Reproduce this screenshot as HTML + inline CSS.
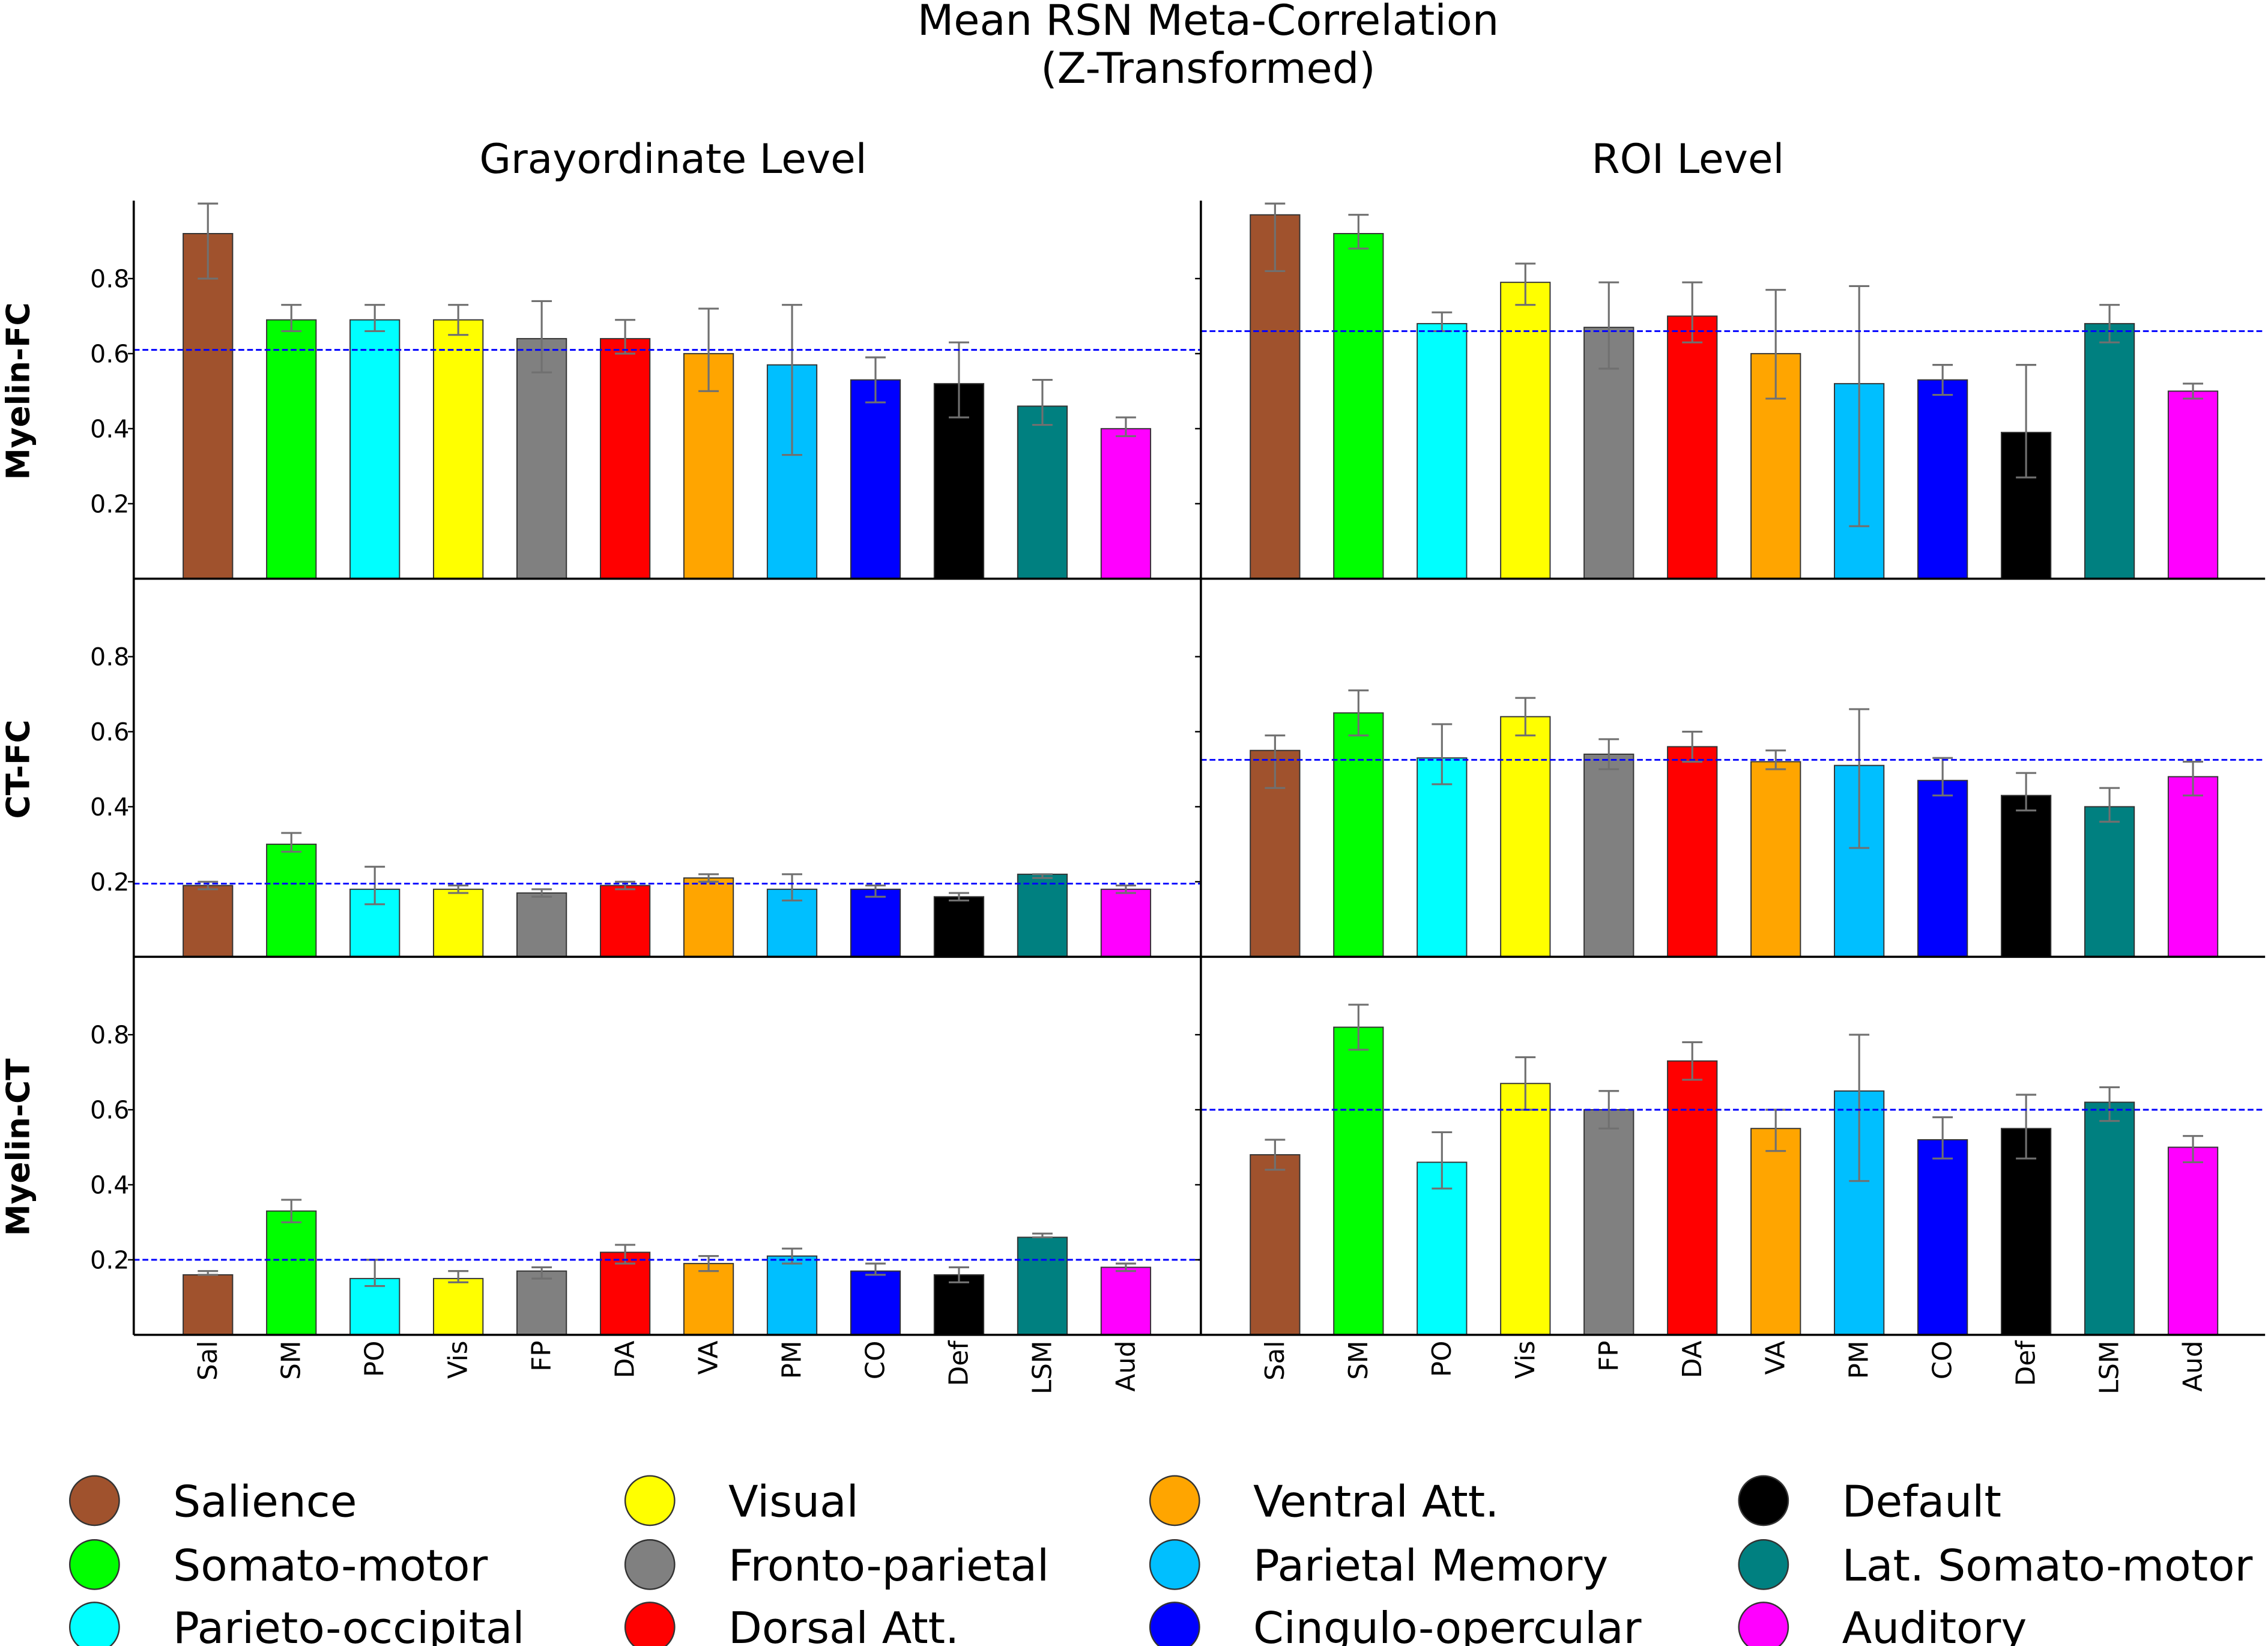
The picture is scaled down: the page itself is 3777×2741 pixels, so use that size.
<!DOCTYPE html>
<html><head><meta charset="utf-8"><style>
html,body{margin:0;padding:0;background:#fff;}
svg{display:block;font-family:"DejaVu Sans","Liberation Sans",sans-serif;}
</style></head><body>
<svg id="chart" width="3777" height="2741" viewBox="0 0 1560 1132" preserveAspectRatio="none" xmlns="http://www.w3.org/2000/svg">
<rect width="1560" height="1132" fill="#fff"/>
<text x="831" y="24" font-size="29" text-anchor="middle">Mean RSN Meta-Correlation</text>
<text x="831" y="57" font-size="29" text-anchor="middle">(Z-Transformed)</text>
<text x="463" y="119" font-size="28" text-anchor="middle">Grayordinate Level</text>
<text x="1161" y="119" font-size="28" text-anchor="middle">ROI Level</text>
<g id="plots"></g>
<g id="legend"></g>
</svg>
<script>
const categories=["Sal","SM","PO","Vis","FP","DA","VA","PM","CO","Def","LSM","Aud"];
const legendNames=["Salience","Somato-motor","Parieto-occipital","Visual","Fronto-parietal","Dorsal Att.","Ventral Att.","Parietal Memory","Cingulo-opercular","Default","Lat. Somato-motor","Auditory"];
const colors=["#a0522d","#00ff00","#00ffff","#ffff00","#808080","#ff0000","#ffa500","#00bfff","#0000ff","#000000","#008080","#ff00ff"];
const rowLabels=["Myelin-FC","CT-FC","Myelin-CT"];
const yTicks=[0.2,0.4,0.6,0.8];
const gMyelinFC=[0.92,0.69,0.69,0.69,0.64,0.64,0.60,0.57,0.53,0.52,0.46,0.40];
const gMyelinFCLo=[0.80,0.66,0.66,0.65,0.55,0.60,0.50,0.33,0.47,0.43,0.41,0.38];
const gMyelinFCHi=[1.0,0.73,0.73,0.73,0.74,0.69,0.72,0.73,0.59,0.63,0.53,0.43];
const rMyelinFC=[0.97,0.92,0.68,0.79,0.67,0.70,0.60,0.52,0.53,0.39,0.68,0.50];
const rMyelinFCLo=[0.82,0.88,0.66,0.73,0.56,0.63,0.48,0.14,0.49,0.27,0.63,0.48];
const rMyelinFCHi=[1.0,0.97,0.71,0.84,0.79,0.79,0.77,0.78,0.57,0.57,0.73,0.52];
const gCTFC=[0.19,0.30,0.18,0.18,0.17,0.19,0.21,0.18,0.18,0.16,0.22,0.18];
const gCTFCLo=[0.18,0.28,0.14,0.17,0.16,0.18,0.20,0.15,0.16,0.15,0.21,0.17];
const gCTFCHi=[0.20,0.33,0.24,0.19,0.18,0.20,0.22,0.22,0.19,0.17,0.22,0.19];
const rCTFC=[0.55,0.65,0.53,0.64,0.54,0.56,0.52,0.51,0.47,0.43,0.40,0.48];
const rCTFCLo=[0.45,0.59,0.46,0.59,0.50,0.52,0.50,0.29,0.43,0.39,0.36,0.43];
const rCTFCHi=[0.59,0.71,0.62,0.69,0.58,0.60,0.55,0.66,0.53,0.49,0.45,0.52];
const gMyelinCT=[0.16,0.33,0.15,0.15,0.17,0.22,0.19,0.21,0.17,0.16,0.26,0.18];
const gMyelinCTLo=[0.16,0.30,0.13,0.14,0.15,0.19,0.17,0.19,0.16,0.14,0.26,0.17];
const gMyelinCTHi=[0.17,0.36,0.20,0.17,0.18,0.24,0.21,0.23,0.19,0.18,0.27,0.19];
const rMyelinCT=[0.48,0.82,0.46,0.67,0.60,0.73,0.55,0.65,0.52,0.55,0.62,0.50];
const rMyelinCTLo=[0.44,0.76,0.39,0.60,0.55,0.68,0.49,0.41,0.47,0.47,0.57,0.46];
const rMyelinCTHi=[0.52,0.88,0.54,0.74,0.65,0.78,0.60,0.80,0.58,0.64,0.66,0.53];
const means=[[0.61,0.66],[0.195,0.525],[0.20,0.60]];

const panels=[[[gMyelinFC,gMyelinFCLo,gMyelinFCHi],[rMyelinFC,rMyelinFCLo,rMyelinFCHi]],
 [[gCTFC,gCTFCLo,gCTFCHi],[rCTFC,rCTFCLo,rCTFCHi]],
 [[gMyelinCT,gMyelinCTLo,gMyelinCTHi],[rMyelinCT,rMyelinCTLo,rMyelinCTHi]]];
const NS="http://www.w3.org/2000/svg";
const P=document.getElementById("plots");
function mk(tag,at,parent){const e=document.createElementNS(NS,tag);for(const k in at)e.setAttribute(k,at[k]);(parent||P).appendChild(e);return e;}
const rowBottom=[398,658,918], rowH=258;
const colLeft=[92,826], colRight=[826,1558], firstX=[143,877], step=57.4, bw=34;
for(let r=0;r<3;r++){
 const y0=rowBottom[r];
 const ys=v=>y0-v*rowH;
 const lab=mk("text",{x:20,y:y0-rowH/2,"font-size":22,"font-weight":"bold","text-anchor":"middle",transform:`rotate(-90 20 ${y0-rowH/2})`});
 lab.textContent=rowLabels[r];
 
 
 for(let c=0;c<2;c++){
  const [vals,lo,hi]=panels[r][c];
  const xs=i=>firstX[c]+i*step;
  yTicks.forEach(t=>{
   mk("line",{x1:colLeft[c]-4,x2:colLeft[c],y1:ys(t),y2:ys(t),stroke:"#000","stroke-width":1});
   if(c===0){const tt=mk("text",{x:colLeft[c]-3,y:ys(t)+6,"font-size":17,"text-anchor":"end"});tt.textContent=t.toFixed(1);
    
    }
  });
  vals.forEach((v,i)=>{
   const b=mk("rect",{x:xs(i)-bw/2,y:ys(v),width:bw,height:v*rowH,fill:colors[i],stroke:"#333","stroke-width":0.8});
   
   
   mk("line",{x1:xs(i),x2:xs(i),y1:ys(lo[i]),y2:ys(hi[i]),stroke:"#707070","stroke-width":1.3});
   [lo[i],hi[i]].forEach(e=>mk("line",{x1:xs(i)-7,x2:xs(i)+7,y1:ys(e),y2:ys(e),stroke:"#707070","stroke-width":1.3}));
  });
  const ml=mk("line",{x1:colLeft[c],x2:colRight[c],y1:ys(means[r][c]),y2:ys(means[r][c]),stroke:"#0000ff","stroke-width":1.2,"stroke-dasharray":"4 2"});
  
  
  if(r===2){
   categories.forEach((n,i)=>{
    const tx=mk("text",{x:0,y:0,"font-size":18,"text-anchor":"end",transform:`translate(${xs(i)+6} 922) rotate(-90)`});
    tx.textContent=n;
    
    
   });
  }
 }
 mk("line",{x1:92,x2:1558,y1:y0,y2:y0,stroke:"#000","stroke-width":1.5});
}
mk("line",{x1:92,x2:92,y1:138,y2:918,stroke:"#000","stroke-width":1.5});
mk("line",{x1:826,x2:826,y1:138,y2:918,stroke:"#000","stroke-width":1.5});
const L=document.getElementById("legend");
const lx=[65,447,808,1213], ly=[1032,1076,1119];
legendNames.forEach((n,i)=>{
 const col=Math.floor(i/3), row=i%3;
 const g=mk("g",{},L);
 
 
 mk("circle",{cx:lx[col],cy:ly[row],r:17,fill:colors[i],stroke:"#333","stroke-width":1},g);
 const t=mk("text",{x:lx[col]+54,y:ly[row]+11,"font-size":30},g);
 t.textContent=n;
});
</script>
</body></html>
